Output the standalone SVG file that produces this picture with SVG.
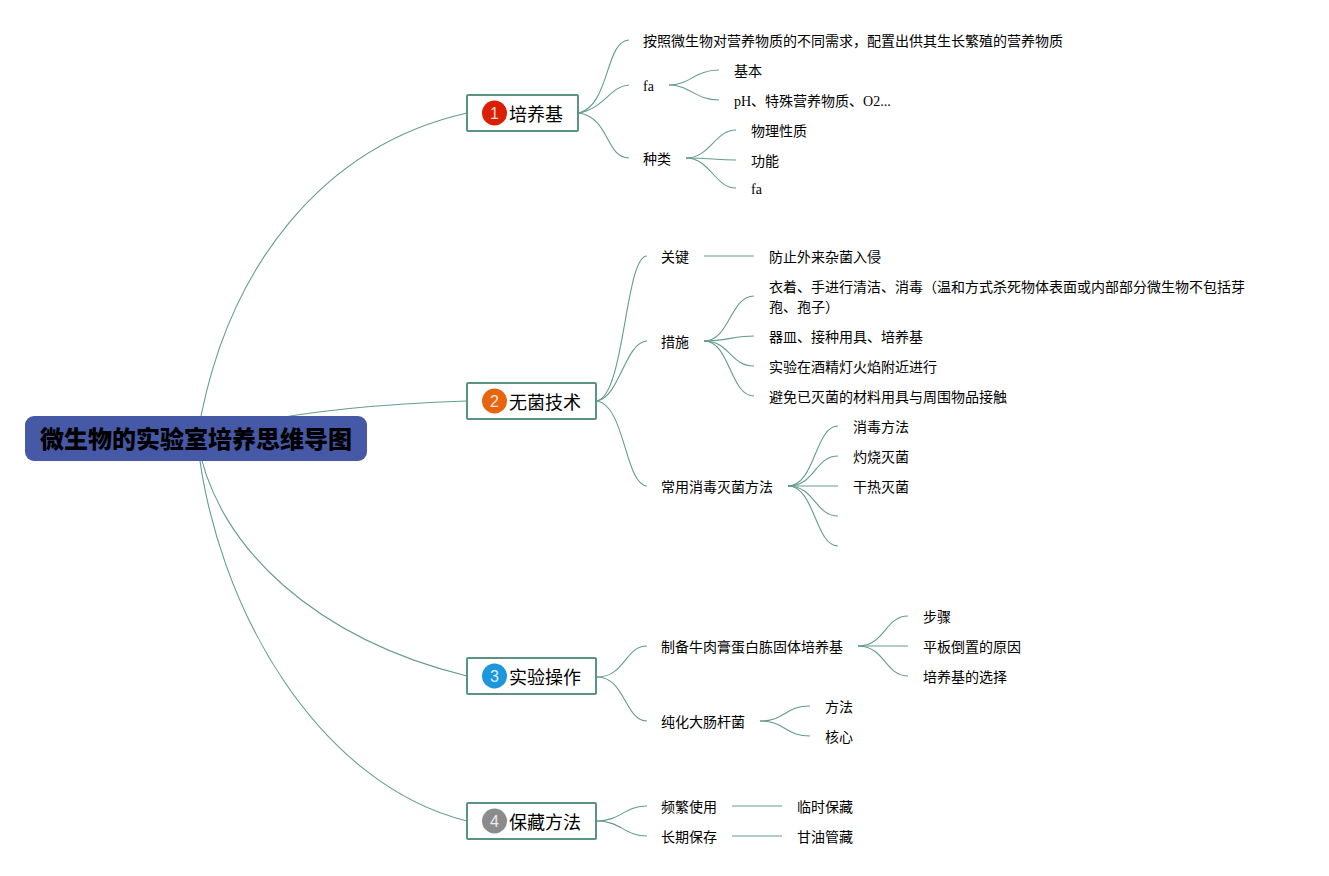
<svg xmlns="http://www.w3.org/2000/svg" width="1329" height="876" viewBox="0 0 1329 876">
<style>
text{font-family:"Liberation Serif","Noto Sans CJK SC",serif;fill:#000}
.l{font-size:14px}
.t{font-size:18px;font-family:"Noto Sans CJK SC","Liberation Sans",sans-serif}
.r{font-size:24px;font-weight:900;font-family:"Noto Sans CJK SC",sans-serif}
.n{font-size:16px;font-family:"Liberation Sans",sans-serif;fill:#fff;fill-opacity:.85;text-anchor:middle}
.box{fill:#fff;stroke:#5b9382;stroke-width:2}
#connectors path{fill:none;stroke:#649c8a;stroke-width:1.1}
</style>
<g id="connectors">
<path d="M197 438C225 265 325 145 467 113"/>
<path d="M197 438C270 412 380 404 467 401"/>
<path d="M197 438C215 550 320 640 467 676"/>
<path d="M197 438C215 610 320 785 467 821"/>
<path d="M579 113C610 105 605 41 629 40"/>
<path d="M579 113C605 108 610 86 629 85"/>
<path d="M579 113C610 118 605 157 629 158"/>
<path d="M669 85C690 85 695 70 719 70"/>
<path d="M669 85C690 85 695 100 719 100"/>
<path d="M686 158C710 158 715 130 736 130"/>
<path d="M686 158C710 158 715 160 736 160"/>
<path d="M686 158C710 158 715 188 736 188"/>
<path d="M597 401C625 395 625 256 647 256"/>
<path d="M597 401C620 397 625 342 647 341"/>
<path d="M597 401C625 405 625 485 647 486"/>
<path d="M704 256H754"/>
<path d="M704 341C730 341 730 296 754 296"/>
<path d="M704 341C725 341 735 336 754 336"/>
<path d="M704 341C730 341 730 366 754 366"/>
<path d="M704 341C730 341 730 396 754 396"/>
<path d="M788 486C815 486 815 426 838 426"/>
<path d="M788 486C815 486 815 456 838 456"/>
<path d="M788 486H838"/>
<path d="M788 486C815 486 815 516 838 516"/>
<path d="M788 486C815 486 815 546 838 546"/>
<path d="M597 677C625 677 625 646 647 646"/>
<path d="M597 677C625 677 625 721 647 721"/>
<path d="M858 646C885 646 885 616 908 616"/>
<path d="M858 646H908"/>
<path d="M858 646C885 646 885 676 908 676"/>
<path d="M760 721C785 721 785 706 810 706"/>
<path d="M760 721C785 721 785 736 810 736"/>
<path d="M597 821C620 821 625 806 647 806"/>
<path d="M597 821C620 821 625 836 647 836"/>
<path d="M732 806H782"/>
<path d="M732 836H782"/>
</g>
<g id="root"><rect x="25" y="416" width="342" height="45" rx="9" fill="#4659a6"/><text class="r" x="40" y="448">微生物的实验室培养思维导图</text></g>
<g id="topic1"><rect class="box" x="467" y="95" width="111" height="36" rx="1"/><circle cx="494.500" cy="113" r="12.500" fill="#db1f05"/><text class="n" x="494.500" y="119">1</text><text class="t" x="509" y="121">培养基</text></g>
<g id="topic2"><rect class="box" x="467" y="383" width="129" height="36" rx="1"/><circle cx="494.500" cy="401" r="12.500" fill="#e8650f"/><text class="n" x="494.500" y="407">2</text><text class="t" x="509" y="409">无菌技术</text></g>
<g id="topic3"><rect class="box" x="467" y="658" width="129" height="36" rx="1"/><circle cx="494.500" cy="676" r="12.500" fill="#1c96dc"/><text class="n" x="494.500" y="682">3</text><text class="t" x="509" y="684">实验操作</text></g>
<g id="topic4"><rect class="box" x="467" y="803" width="129" height="36" rx="1"/><circle cx="494.500" cy="821" r="12.500" fill="#8b8b8b"/><text class="n" x="494.500" y="827">4</text><text class="t" x="509" y="829">保藏方法</text></g>
<g id="n1"><text class="l" x="643" y="46">按照微生物对营养物质的不同需求，配置出供其生长繁殖的营养物质</text></g>
<g id="n2"><text class="l" x="643" y="91">fa</text></g>
<g id="n3"><text class="l" x="734" y="76">基本</text></g>
<g id="n4"><text class="l" x="734" y="106">pH、特殊营养物质、O2...</text></g>
<g id="n5"><text class="l" x="643" y="164">种类</text></g>
<g id="n6"><text class="l" x="751" y="136">物理性质</text></g>
<g id="n7"><text class="l" x="751" y="166">功能</text></g>
<g id="n8"><text class="l" x="751" y="194">fa</text></g>
<g id="n9"><text class="l" x="661" y="262">关键</text></g>
<g id="n10"><text class="l" x="769" y="262">防止外来杂菌入侵</text></g>
<g id="n11"><text class="l" x="661" y="347">措施</text></g>
<g id="n12"><text class="l" x="769" y="292">衣着、手进行清洁、消毒（温和方式杀死物体表面或内部部分微生物不包括芽</text><text class="l" x="769" y="312">孢、孢子）</text></g>
<g id="n13"><text class="l" x="769" y="342">器皿、接种用具、培养基</text></g>
<g id="n14"><text class="l" x="769" y="372">实验在酒精灯火焰附近进行</text></g>
<g id="n15"><text class="l" x="769" y="402">避免已灭菌的材料用具与周围物品接触</text></g>
<g id="n16"><text class="l" x="661" y="492">常用消毒灭菌方法</text></g>
<g id="n17"><text class="l" x="853" y="432">消毒方法</text></g>
<g id="n18"><text class="l" x="853" y="462">灼烧灭菌</text></g>
<g id="n19"><text class="l" x="853" y="492">干热灭菌</text></g>
<g id="n20"><text class="l" x="661" y="652">制备牛肉膏蛋白胨固体培养基</text></g>
<g id="n21"><text class="l" x="923" y="622">步骤</text></g>
<g id="n22"><text class="l" x="923" y="652">平板倒置的原因</text></g>
<g id="n23"><text class="l" x="923" y="682">培养基的选择</text></g>
<g id="n24"><text class="l" x="661" y="727">纯化大肠杆菌</text></g>
<g id="n25"><text class="l" x="825" y="712">方法</text></g>
<g id="n26"><text class="l" x="825" y="742">核心</text></g>
<g id="n27"><text class="l" x="661" y="812">频繁使用</text></g>
<g id="n28"><text class="l" x="797" y="812">临时保藏</text></g>
<g id="n29"><text class="l" x="661" y="842">长期保存</text></g>
<g id="n30"><text class="l" x="797" y="842">甘油管藏</text></g>
</svg>
